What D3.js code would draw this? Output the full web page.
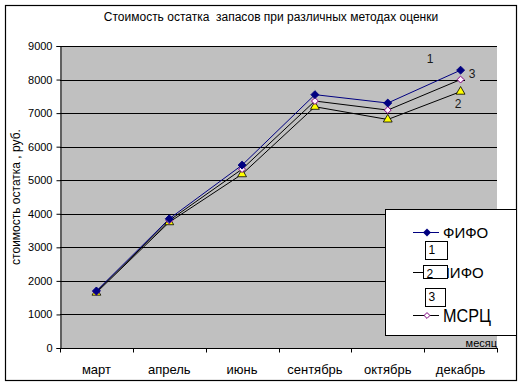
<!DOCTYPE html>
<html><head><meta charset="utf-8">
<script src="https://cdn.jsdelivr.net/npm/d3@7"></script>
<style>body{margin:0;background:#fff}svg{display:block;font-family:Arial,"Liberation Sans",sans-serif}</style>
</head><body>
<script>
const months = ["март","апрель","июнь","сентябрь","октябрь","декабрь"];
const fifo = [1700, 3850, 5450, 7550, 7300, 8280];
const lifo = [1650, 3750, 5180, 7190, 6810, 7640];
const msrc = [1680, 3800, 5330, 7360, 7090, 8000];
const yTicks = [0,1000,2000,3000,4000,5000,6000,7000,8000,9000];
const seriesNames = ["ФИФО","ЛИФО","МСРЦ"];
const title = "Стоимость остатка  запасов при различных методах оценки";
const yTitle = "стоимость остатка , руб.";
const xTitle = "месяц";

const W=523,H=387;
const svg=d3.select("body").append("svg").attr("width",W).attr("height",H);
svg.append("rect").attr("x",5.5).attr("y",5.5).attr("width",511).attr("height",375)
  .attr("fill","#fff").attr("stroke","#000").attr("stroke-width",1.2);

const x=d3.scaleBand().domain(months).range([60,497]).padding(0);
const y=d3.scaleLinear().domain([0,9000]).range([348,46]);

svg.append("rect").attr("x",60).attr("y",46).attr("width",437).attr("height",302).attr("fill","#c0c0c0");

// gridlines
svg.append("g").selectAll("line").data(yTicks.filter(d=>d>0)).join("line")
  .attr("x1",60).attr("x2",497).attr("y1",d=>Math.round(y(d))+0.5).attr("y2",d=>Math.round(y(d))+0.5)
  .attr("stroke","#000").attr("stroke-width",1);

// axes
const yAxis=d3.axisLeft(y).tickValues(yTicks).tickSize(4).tickPadding(4).tickFormat(d3.format("d"));
const gy=svg.append("g").attr("transform","translate(60.5,0)").call(yAxis);
gy.select(".domain").attr("stroke","#000");
gy.selectAll("text").attr("font-size",11).attr("fill","#000").attr("font-family","Arial,'Liberation Sans',sans-serif");

const gx=svg.append("g").attr("transform","translate(0,348.5)");
gx.append("line").attr("x1",60).attr("x2",498).attr("stroke","#000");
const bounds=months.map(m=>x(m)).concat([x(months[months.length-1])+x.bandwidth()]);
gx.selectAll("line.t").data(bounds).join("line").attr("class","t")
  .attr("x1",d=>Math.round(d)+0.5).attr("x2",d=>Math.round(d)+0.5).attr("y1",0).attr("y2",4).attr("stroke","#000");
gx.selectAll("text").data(months).join("text")
  .attr("x",d=>x(d)+x.bandwidth()/2).attr("y",25).attr("text-anchor","middle")
  .attr("font-size",13).attr("fill","#000").text(d=>d);

// series
const cx=d=>x(d)+x.bandwidth()/2;
const line=d3.line().x((d,i)=>cx(months[i])).y(d=>y(d));
svg.append("path").datum(lifo).attr("d",line).attr("fill","none").attr("stroke","#000").attr("stroke-width",1);
svg.append("path").datum(msrc).attr("d",line).attr("fill","none").attr("stroke","#000").attr("stroke-width",1);
svg.append("path").datum(fifo).attr("d",line).attr("fill","none").attr("stroke","#000080").attr("stroke-width",1);

const diamond=d3.symbol().type(d3.symbolDiamond2).size(40);
const tri=d3.symbol().type(d3.symbolTriangle).size(34);
svg.append("g").selectAll("path").data(lifo).join("path")
  .attr("transform",(d,i)=>`translate(${cx(months[i])},${y(d)})`).attr("d",tri)
  .attr("fill","#ffff00").attr("stroke","#000").attr("stroke-width",0.8);
svg.append("g").selectAll("path").data(msrc).join("path")
  .attr("transform",(d,i)=>`translate(${cx(months[i])},${y(d)})`).attr("d",d3.symbol().type(d3.symbolDiamond2).size(30))
  .attr("fill","#fff0ff").attr("stroke","#800080").attr("stroke-width",1);
svg.append("g").selectAll("path").data(fifo).join("path")
  .attr("transform",(d,i)=>`translate(${cx(months[i])},${y(d)})`).attr("d",diamond)
  .attr("fill","#000080").attr("stroke","#000080");

// data labels
const lbls=[{t:"1",x:430,y:63},{t:"3",x:472,y:78},{t:"2",x:458,y:108}];
lbls.forEach(l=>{
  svg.append("rect").attr("x",l.x-7).attr("y",l.y-11).attr("width",15).attr("height",14).attr("fill","#c0c0c0");
  svg.append("text").attr("x",l.x).attr("y",l.y).attr("text-anchor","middle").attr("font-size",12).attr("fill","#1a1a1a").text(l.t);
});

// title
svg.append("text").attr("x",271).attr("y",21).attr("text-anchor","middle").attr("font-size",12)
  .style("white-space","pre").attr("xml:space","preserve").attr("fill","#000").text(title);
// y title
svg.append("text").attr("transform","translate(20,197) rotate(-90)").attr("text-anchor","middle")
  .attr("font-size",12).attr("fill","#000").text(yTitle);

// legend
const lg=svg.append("g");
lg.append("rect").attr("x",385.5).attr("y",209.5).attr("width",131).attr("height",126).attr("fill","#fff").attr("stroke","#000");
// FIFO row
lg.append("line").attr("x1",413).attr("x2",439).attr("y1",232.5).attr("y2",232.5).attr("stroke","#000080");
lg.append("path").attr("transform","translate(427,232.5)").attr("d",diamond).attr("fill","#000080");
lg.append("text").attr("x",443).attr("y",238).attr("font-size",15).attr("fill","#000").text(seriesNames[0]);
// LIFO row
lg.append("line").attr("x1",413).attr("x2",439).attr("y1",272.5).attr("y2",272.5).attr("stroke","#000");
lg.append("text").attr("x",440).attr("y",278).attr("font-size",15).attr("fill","#000").text(seriesNames[1]);
// MSRC row
lg.append("line").attr("x1",413).attr("x2",439).attr("y1",315.5).attr("y2",315.5).attr("stroke","#000");
lg.append("path").attr("transform","translate(427,315.5)").attr("d",d3.symbol().type(d3.symbolDiamond2).size(22))
  .attr("fill","#fff").attr("stroke","#800080");
lg.append("text").attr("x",443).attr("y",322).attr("font-size",19).attr("textLength",48).attr("lengthAdjust","spacingAndGlyphs")
  .attr("fill","#000").text(seriesNames[2]);
// numbered boxes
const boxes=[{t:"1",x:425.5,y:241.5,w:22,h:18},{t:"2",x:423.5,y:265.5,w:24,h:13},{t:"3",x:425.5,y:288.5,w:20,h:18}];
boxes.forEach(b=>{
  lg.append("rect").attr("x",b.x).attr("y",b.y).attr("width",b.w).attr("height",b.h).attr("fill","#fff").attr("stroke","#000");
  lg.append("text").attr("x",b.x+3).attr("y",b.y+12).attr("font-size",12).attr("fill","#000").text(b.t);
});

// x title
svg.append("text").attr("x",497).attr("y",347).attr("text-anchor","end").attr("font-size",11).attr("fill","#000").text(xTitle);
</script>
</body></html>
